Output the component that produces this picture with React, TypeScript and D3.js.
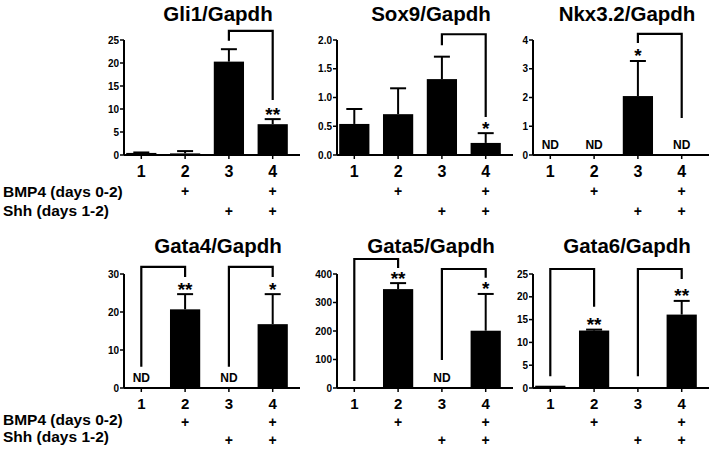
import React from "react";
import * as d3 from "d3";

const groups = ["1", "2", "3", "4"];
const bmp4Row = ["", "+", "", "+"];
const shhRow = ["", "", "+", "+"];
const rowLabels = ["BMP4 (days 0-2)", "Shh (days 1-2)"];

const titles = ["Gli1/Gapdh", "Sox9/Gapdh", "Nkx3.2/Gapdh", "Gata4/Gapdh", "Gata5/Gapdh", "Gata6/Gapdh"];

const gli1Mean = [0.45, 0.35, 20.3, 6.7];
const gli1Sem = [0.1, 0.5, 2.7, 1.1];
const gli1Ticks = [0, 5, 10, 15, 20, 25];
const gli1Stars = ["", "", "", "**"];
const gli1ND = [false, false, false, false];
const gli1Brackets = [[3, 4, 27.0, 24.85, 11.96]];

const sox9Mean = [0.54, 0.71, 1.32, 0.21];
const sox9Sem = [0.26, 0.45, 0.39, 0.17];
const sox9Ticks = [0, 0.5, 1.0, 1.5, 2.0];
const sox9Stars = ["", "", "", "*"];
const sox9ND = [false, false, false, false];
const sox9Brackets = [[3, 4, 2.1, 1.91, 0.66]];

const nkxMean = [0, 0, 2.05, 0];
const nkxSem = [0, 0, 1.22, 0];
const nkxTicks = [0, 1, 2, 3, 4];
const nkxStars = ["", "", "*", ""];
const nkxND = [true, true, false, true];
const nkxBrackets = [[3, 4, 4.21, 3.9, 1.29]];

const gata4Mean = [0, 20.7, 0, 16.8];
const gata4Sem = [0, 4.0, 0, 7.9];
const gata4Ticks = [0, 10, 20, 30];
const gata4Stars = ["", "**", "", "*"];
const gata4ND = [true, false, true, false];
const gata4Brackets = [[1, 2, 31.9, 5.6, 29.2], [3, 4, 31.9, 5.6, 29.2]];

const gata5Mean = [0, 347, 0, 201];
const gata5Sem = [0, 21, 0, 129];
const gata5Ticks = [0, 100, 200, 300, 400];
const gata5Stars = ["", "**", "", "*"];
const gata5ND = [false, false, true, false];
const gata5Brackets = [[1, 2, 452.6, 24.6, 421], [3, 4, 417.5, 98, 387]];

const gata6Mean = [0.5, 12.6, 0.15, 16.1];
const gata6Sem = [0, 0.2, 0, 3.0];
const gata6Ticks = [0, 5, 10, 15, 20, 25];
const gata6Stars = ["", "**", "", "**"];
const gata6ND = [false, false, false, false];
const gata6Brackets = [[1, 2, 26.1, 2.6, 17.8], [3, 4, 26.1, 2.6, 23.9]];

const panels = [
  { mean: gli1Mean, sem: gli1Sem, ticks: gli1Ticks, stars: gli1Stars, nd: gli1ND, brackets: gli1Brackets, fmt: "d" },
  { mean: sox9Mean, sem: sox9Sem, ticks: sox9Ticks, stars: sox9Stars, nd: sox9ND, brackets: sox9Brackets, fmt: ".1f" },
  { mean: nkxMean, sem: nkxSem, ticks: nkxTicks, stars: nkxStars, nd: nkxND, brackets: nkxBrackets, fmt: "d" },
  { mean: gata4Mean, sem: gata4Sem, ticks: gata4Ticks, stars: gata4Stars, nd: gata4ND, brackets: gata4Brackets, fmt: "d" },
  { mean: gata5Mean, sem: gata5Sem, ticks: gata5Ticks, stars: gata5Stars, nd: gata5ND, brackets: gata5Brackets, fmt: "d" },
  { mean: gata6Mean, sem: gata6Sem, ticks: gata6Ticks, stars: gata6Stars, nd: gata6ND, brackets: gata6Brackets, fmt: "d" },
];

const colX = [124, 337, 533];
const rowBase = [155, 388];
const rowTop = [40, 274];
const titleY = [21, 253];
// [tick label baseline, BMP4 label baseline, Shh label baseline, BMP4 plus baseline, Shh plus baseline]
const labelY = [[177, 197, 216, 196, 216], [409, 425, 442, 427, 445]];
const FONT = "'Liberation Sans', Arial, sans-serif";

function Panel({ p, idx }: { p: any; idx: number }) {
  const col = idx % 3;
  const row = Math.floor(idx / 3);
  const ax = colX[col];
  const y0 = rowBase[row];
  const yT = rowTop[row];
  const maxT = p.ticks[p.ticks.length - 1];
  const y = d3.scaleLinear().domain([0, maxT]).range([y0, yT]);
  const x = d3.scaleBand<string>().domain(groups).range([ax, ax + 166]).paddingInner(0.31).paddingOuter(0.05);
  const bw = x.bandwidth();
  const cx = (g: string) => (x(g) as number) + bw / 2;
  const fmt = d3.format(p.fmt);
  const [lY, bY, sY, bpY, spY] = labelY[row];
  return (
    <g>
      <text x={ax + 94} y={titleY[row]} textAnchor="middle" fontSize={20.5} fontWeight="bold" fontFamily={FONT}>
        {titles[idx]}
      </text>
      {groups.map((g, i) => (
        <rect key={"b" + i} x={x(g)} y={y(p.mean[i])} width={bw} height={y0 - y(p.mean[i])} fill="#000" />
      ))}
      {groups.map((g, i) =>
        p.sem[i] > 0 ? (
          <g key={"e" + i} stroke="#000" strokeWidth={2}>
            <line x1={cx(g)} x2={cx(g)} y1={y(p.mean[i])} y2={y(p.mean[i] + p.sem[i])} />
            <line x1={cx(g) - 8} x2={cx(g) + 8} y1={y(p.mean[i] + p.sem[i])} y2={y(p.mean[i] + p.sem[i])} />
          </g>
        ) : null
      )}
      {groups.map((g, i) =>
        p.stars[i] ? (
          <text key={"s" + i} x={cx(g)} y={y(p.mean[i] + p.sem[i]) - 9 + 10.5} textAnchor="middle" fontSize={19} fontWeight="bold" fontFamily={FONT}>
            {p.stars[i]}
          </text>
        ) : null
      )}
      {groups.map((g, i) =>
        p.nd[i] ? (
          <text key={"n" + i} x={cx(g)} y={y0 - 6} textAnchor="middle" fontSize={12} fontWeight="bold" fontFamily={FONT}>
            ND
          </text>
        ) : null
      )}
      {p.brackets.map((b: number[], i: number) => (
        <path
          key={"k" + i}
          d={`M${cx(groups[b[0] - 1])},${y(b[3])}V${y(b[2])}H${cx(groups[b[1] - 1])}V${y(b[4])}`}
          fill="none"
          stroke="#000"
          strokeWidth={2.2}
        />
      ))}
      <line x1={ax} x2={ax} y1={y0} y2={yT} stroke="#000" strokeWidth={2} />
      <line x1={ax} x2={ax + 176} y1={y0} y2={y0} stroke="#000" strokeWidth={2} />
      {p.ticks.map((t: number, i: number) => (
        <g key={"t" + i}>
          <line x1={ax - 4} x2={ax} y1={y(t)} y2={y(t)} stroke="#000" strokeWidth={1.5} />
          <text x={ax - 5} y={y(t) + 3.5} textAnchor="end" fontSize={10} fontWeight="bold" fontFamily={FONT}>
            {fmt(t)}
          </text>
        </g>
      ))}
      {groups.map((g, i) => (
        <g key={"x" + i}>
          <line x1={cx(g)} x2={cx(g)} y1={y0} y2={y0 + 4} stroke="#000" strokeWidth={1.5} />
          <text x={cx(g)} y={lY} textAnchor="middle" fontSize={row === 0 ? 16 : 15} fontWeight="bold" fontFamily={FONT}>
            {g}
          </text>
          <text x={cx(g)} y={bpY} textAnchor="middle" fontSize={14} fontWeight="bold" fontFamily={FONT}>
            {bmp4Row[i]}
          </text>
          <text x={cx(g)} y={spY} textAnchor="middle" fontSize={14} fontWeight="bold" fontFamily={FONT}>
            {shhRow[i]}
          </text>
        </g>
      ))}
      {col === 0 ? (
        <g>
          <text x={3} y={bY} fontSize={15.5} fontWeight="bold" fontFamily={FONT}>{rowLabels[0]}</text>
          <text x={3} y={sY} fontSize={15.5} fontWeight="bold" fontFamily={FONT}>{rowLabels[1]}</text>
        </g>
      ) : null}
    </g>
  );
}

export default function App() {
  return (
    <svg width={716} height={451} style={{ position: "absolute", left: 0, top: 0, background: "#fff" }}>
      <rect width={716} height={451} fill="#fff" />
      {panels.map((p, i) => (
        <Panel key={i} p={p} idx={i} />
      ))}
    </svg>
  );
}
